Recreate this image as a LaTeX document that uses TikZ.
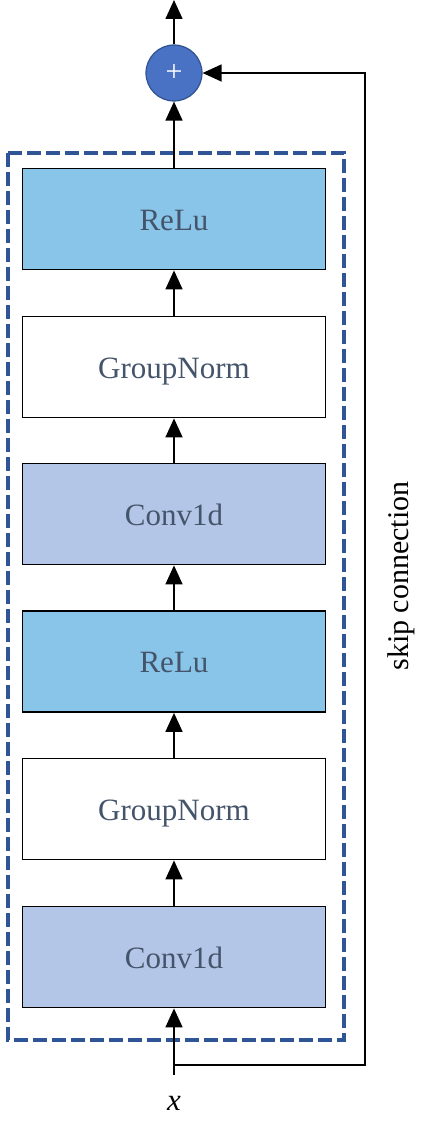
\documentclass[tikz,border=0pt]{standalone}
\usepackage{fontspec}
\setmainfont{Liberation Serif}
\usetikzlibrary{arrows.meta}
\definecolor{relu}{HTML}{89C4E9}
\definecolor{conv}{HTML}{B4C6E7}
\definecolor{txt}{HTML}{44546A}
\definecolor{dashcol}{HTML}{2F5597}
\definecolor{sumfill}{HTML}{4A72C4}
\definecolor{sumline}{HTML}{2F528F}
\tikzset{
  layer/.style={draw=black, line width=1.8pt, minimum width=303pt, minimum height=101pt,
    inner sep=0pt, text=txt, font=\fontsize{31}{34}\selectfont,
    text height=22pt, text depth=0pt},
  arr/.style={line width=1.5pt, -{Triangle[length=19pt,width=17pt]}},
  groupbox/.style={draw=dashcol, line width=4.5pt, dash pattern=on 14pt off 5pt},
}
\begin{document}
\begin{tikzpicture}[x=1pt,y=-1pt]
\useasboundingbox (0,0) rectangle (423,1123);
\draw[groupbox] (8,153) rectangle (344,1040);
\node[layer, fill=relu] (r2) at (174,219) {ReLu};
\node[layer, fill=white] (g2) at (174,367) {GroupNorm};
\node[layer, fill=conv] (c2) at (174,514) {Conv1d};
\node[layer, fill=relu] (r1) at (174,661.5) {ReLu};
\node[layer, fill=white] (g1) at (174,809) {GroupNorm};
\node[layer, fill=conv] (c1) at (174,957) {Conv1d};
\node[circle, fill=sumfill, draw=sumline, line width=1.2pt, minimum size=56pt, inner sep=0pt,
  text=white, font=\fontsize{30}{30}\selectfont] (sum) at (174,73) {+};
\coordinate (xin) at (174,1075);
\coordinate (sk0) at (174,1065);
\coordinate (out) at (174,0);
\coordinate (sk1) at (365,1065);
\coordinate (sk2) at (365,73);
\node[font=\fontsize{31}{34}\selectfont\itshape] (xl) at (174,1103) {x};
\node[rotate=90, font=\fontsize{30}{33}\selectfont] (skl) at (401,576) {skip connection};
\draw[arr] (xin) -- (c1.south);
\draw[arr] (c1.north) -- (g1.south);
\draw[arr] (g1.north) -- (r1.south);
\draw[arr] (r1.north) -- (c2.south);
\draw[arr] (c2.north) -- (g2.south);
\draw[arr] (g2.north) -- (r2.south);
\draw[arr] (r2.north) -- (sum.south);
\draw[arr] (sum.north) -- (out);
\draw[arr] (sk0) -- (sk1) -- (sk2) -- (sum.east);
\end{tikzpicture}
\end{document}
